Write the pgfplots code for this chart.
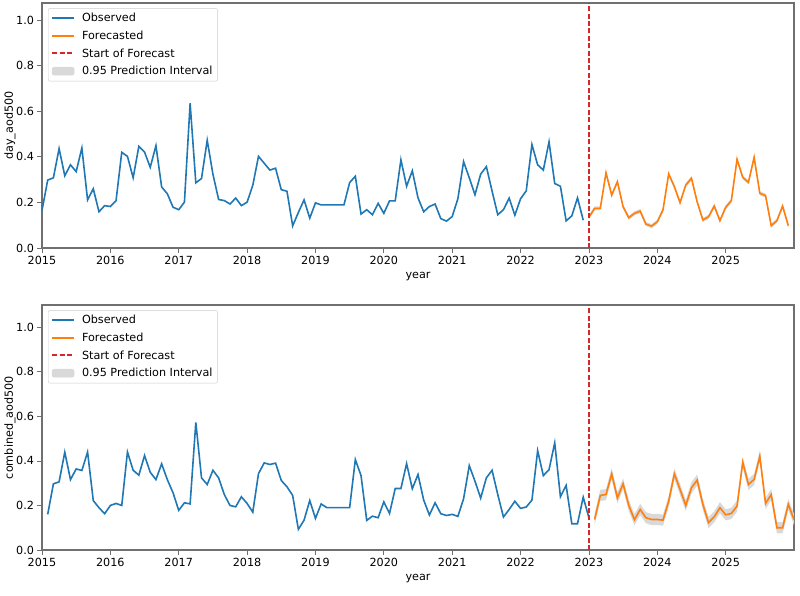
\documentclass[border=0pt]{standalone}
\usepackage{fontspec}
\setmainfont{DejaVu Sans}
\usepackage{pgfplots}
\pgfplotsset{compat=1.18}
\usepackage{pgfplotstable}
\usepgfplotslibrary{fillbetween}
\definecolor{tabblue}{HTML}{1F77B4}
\definecolor{taborange}{HTML}{FF7F0E}
\definecolor{tabred}{HTML}{D62728}
\definecolor{spine}{HTML}{707070}

\pgfplotstableread{
i y
0 0.165
1 0.298
2 0.308
3 0.436
4 0.317
5 0.365
6 0.335
7 0.439
8 0.211
9 0.260
10 0.159
11 0.186
12 0.182
13 0.208
14 0.420
15 0.402
16 0.308
17 0.446
18 0.421
19 0.354
20 0.449
21 0.268
22 0.238
23 0.179
24 0.168
25 0.201
26 0.635
27 0.286
28 0.305
29 0.473
30 0.324
31 0.213
32 0.208
33 0.193
34 0.219
35 0.186
36 0.201
37 0.275
38 0.402
39 0.372
40 0.342
41 0.350
42 0.256
43 0.249
44 0.097
45 0.156
46 0.211
47 0.131
48 0.198
49 0.189
50 0.189
51 0.189
52 0.189
53 0.189
54 0.287
55 0.315
56 0.149
57 0.168
58 0.146
59 0.196
60 0.152
61 0.207
62 0.207
63 0.387
64 0.271
65 0.339
66 0.220
67 0.159
68 0.182
69 0.193
70 0.129
71 0.118
72 0.138
73 0.216
74 0.379
75 0.308
76 0.234
77 0.324
78 0.357
79 0.250
80 0.146
81 0.168
82 0.219
83 0.144
84 0.216
85 0.251
86 0.454
87 0.365
88 0.342
89 0.466
90 0.283
91 0.271
92 0.119
93 0.141
94 0.220
95 0.122
}\obsA

\pgfplotstableread{
i y lo hi
96 0.135 0.126 0.144
97 0.174 0.165 0.183
98 0.174 0.165 0.183
99 0.330 0.321 0.339
100 0.232 0.223 0.241
101 0.291 0.282 0.300
102 0.181 0.172 0.190
103 0.133 0.124 0.142
104 0.152 0.143 0.161
105 0.162 0.153 0.171
106 0.105 0.096 0.114
107 0.096 0.087 0.105
108 0.115 0.106 0.124
109 0.167 0.158 0.176
110 0.325 0.316 0.334
111 0.269 0.260 0.278
112 0.199 0.190 0.208
113 0.276 0.267 0.285
114 0.306 0.297 0.315
115 0.203 0.194 0.212
116 0.123 0.114 0.132
117 0.137 0.128 0.146
118 0.184 0.175 0.193
119 0.120 0.111 0.129
120 0.178 0.169 0.187
121 0.208 0.199 0.217
122 0.389 0.380 0.398
123 0.310 0.301 0.319
124 0.288 0.279 0.297
125 0.398 0.389 0.407
126 0.240 0.231 0.249
127 0.230 0.221 0.239
128 0.098 0.089 0.107
129 0.120 0.111 0.129
130 0.184 0.175 0.193
131 0.098 0.089 0.107
}\fctA

\pgfplotstableread{
i y
1 0.160
2 0.297
3 0.306
4 0.439
5 0.316
6 0.364
7 0.357
8 0.440
9 0.222
10 0.190
11 0.163
12 0.200
13 0.209
14 0.200
15 0.440
16 0.358
17 0.336
18 0.424
19 0.349
20 0.316
21 0.387
22 0.316
23 0.257
24 0.178
25 0.212
26 0.207
27 0.573
28 0.324
29 0.294
30 0.358
31 0.324
32 0.249
33 0.200
34 0.194
35 0.239
36 0.209
37 0.170
38 0.343
39 0.391
40 0.384
41 0.390
42 0.312
43 0.284
44 0.245
45 0.093
46 0.134
47 0.222
48 0.142
49 0.207
50 0.190
51 0.190
52 0.190
53 0.190
54 0.190
55 0.406
56 0.334
57 0.133
58 0.152
59 0.145
60 0.216
61 0.164
62 0.276
63 0.276
64 0.388
65 0.275
66 0.339
67 0.224
68 0.157
69 0.212
70 0.163
71 0.155
72 0.160
73 0.151
74 0.230
75 0.379
76 0.309
77 0.233
78 0.324
79 0.358
80 0.249
81 0.148
82 0.182
83 0.219
84 0.187
85 0.193
86 0.224
87 0.446
88 0.334
89 0.361
90 0.481
91 0.239
92 0.290
93 0.118
94 0.118
95 0.237
96 0.145
}\obsB

\pgfplotstableread{
i y lo hi
97 0.137 0.112 0.162
98 0.245 0.220 0.270
99 0.249 0.224 0.274
100 0.342 0.317 0.367
101 0.234 0.209 0.259
102 0.297 0.272 0.322
103 0.200 0.175 0.225
104 0.136 0.111 0.161
105 0.182 0.157 0.207
106 0.145 0.120 0.170
107 0.137 0.112 0.162
108 0.137 0.112 0.162
109 0.134 0.109 0.159
110 0.218 0.193 0.243
111 0.342 0.317 0.367
112 0.272 0.247 0.297
113 0.200 0.175 0.225
114 0.279 0.254 0.304
115 0.314 0.289 0.339
116 0.205 0.180 0.230
117 0.123 0.098 0.148
118 0.149 0.124 0.174
119 0.190 0.165 0.215
120 0.158 0.133 0.183
121 0.164 0.139 0.189
122 0.197 0.172 0.222
123 0.394 0.369 0.419
124 0.294 0.269 0.319
125 0.317 0.292 0.342
126 0.421 0.396 0.446
127 0.209 0.184 0.234
128 0.249 0.224 0.274
129 0.100 0.075 0.125
130 0.100 0.075 0.125
131 0.205 0.180 0.230
132 0.137 0.112 0.162
}\fctB

\pgfplotsset{
  mystyle/.style={
    scale only axis, width=752pt, height=245pt,
    xmin=0, xmax=132, ymin=0,
    xtick={0,12,...,120},
    xticklabels={2015,2016,2017,2018,2019,2020,2021,2022,2023,2024,2025},
    ytick={0,0.2,0.4,0.6,0.8,1.0},
    yticklabel style={/pgf/number format/fixed, /pgf/number format/fixed zerofill, /pgf/number format/precision=1},
    /pgf/number format/assume math mode=true,
    tick align=outside, tick pos=left,
    major tick length=4.5pt,
    tick style={spine, line width=0.8pt},
    axis line style={spine, line width=1.1pt},
    font=\fontsize{11.2}{13.4}\selectfont,
    ticklabel style={font=\fontsize{11.2}{13.4}\selectfont},
    xlabel={year},
    xlabel style={at={(axis description cs:0.5,-0.118)}, anchor=center},
    ylabel style={at={(axis description cs:-0.0426,0.5)}, anchor=center},
    legend cell align=left,
    legend style={at={(0.008,0.979)}, anchor=north west, draw=black!20, rounded corners=2pt,
      font=\fontsize{11.2}{13.4}\selectfont, inner xsep=3pt, inner ysep=3pt, row sep=3.6pt, column sep=5pt},
  }
}

\begin{document}
\begin{tikzpicture}
\begin{axis}[mystyle, at={(0pt,0pt)}, anchor=south west, ymax=1.075, ylabel={day\_aod500}]
  \addplot[name path=upA, draw=none, forget plot] table[x=i, y=hi] {\fctA};
  \addplot[name path=loA, draw=none, forget plot] table[x=i, y=lo] {\fctA};
  \addplot[gray!30, forget plot] fill between[of=upA and loA];
  \addplot[tabblue, line width=1.6pt, forget plot] table[x=i, y=y] {\obsA};
  \addplot[taborange, line width=1.6pt, forget plot] table[x=i, y=y] {\fctA};
  \addplot[tabred, line width=1.3pt, dash pattern=on 5pt off 2.4pt, forget plot] coordinates {(96,0) (96,1.075)};
  \addlegendimage{legend image code/.code={\draw[tabblue, line width=1.8pt] (0pt,0pt) -- (22pt,0pt);}}
  \addlegendentry{Observed}
  \addlegendimage{legend image code/.code={\draw[taborange, line width=1.8pt] (0pt,0pt) -- (22pt,0pt);}}
  \addlegendentry{Forecasted}
  \addlegendimage{legend image code/.code={\draw[tabred, line width=1.8pt, dash pattern=on 5pt off 2.4pt] (0pt,0.5pt) -- (22pt,0.5pt);}}
  \addlegendentry{Start of Forecast}
  \addlegendimage{legend image code/.code={\fill[gray!30] (0pt,-4pt) rectangle (22pt,4pt);}}
  \addlegendentry{0.95 Prediction Interval}
\end{axis}
\begin{axis}[mystyle, at={(0pt,-302pt)}, anchor=south west, ymax=1.1, ylabel={combined\_aod500}]
  \addplot[name path=upB, draw=none, forget plot] table[x=i, y=hi] {\fctB};
  \addplot[name path=loB, draw=none, forget plot] table[x=i, y=lo] {\fctB};
  \addplot[gray!30, forget plot] fill between[of=upB and loB];
  \addplot[tabblue, line width=1.6pt, forget plot] table[x=i, y=y] {\obsB};
  \addplot[taborange, line width=1.6pt, forget plot] table[x=i, y=y] {\fctB};
  \addplot[tabred, line width=1.3pt, dash pattern=on 5pt off 2.4pt, forget plot] coordinates {(96,0) (96,1.1)};
  \addlegendimage{legend image code/.code={\draw[tabblue, line width=1.8pt] (0pt,0pt) -- (22pt,0pt);}}
  \addlegendentry{Observed}
  \addlegendimage{legend image code/.code={\draw[taborange, line width=1.8pt] (0pt,0pt) -- (22pt,0pt);}}
  \addlegendentry{Forecasted}
  \addlegendimage{legend image code/.code={\draw[tabred, line width=1.8pt, dash pattern=on 5pt off 2.4pt] (0pt,0.5pt) -- (22pt,0.5pt);}}
  \addlegendentry{Start of Forecast}
  \addlegendimage{legend image code/.code={\fill[gray!30] (0pt,-4pt) rectangle (22pt,4pt);}}
  \addlegendentry{0.95 Prediction Interval}
\end{axis}
\pgfresetboundingbox
\useasboundingbox (-42pt,248pt) rectangle (758pt,-347pt);
\end{tikzpicture}
\end{document}
